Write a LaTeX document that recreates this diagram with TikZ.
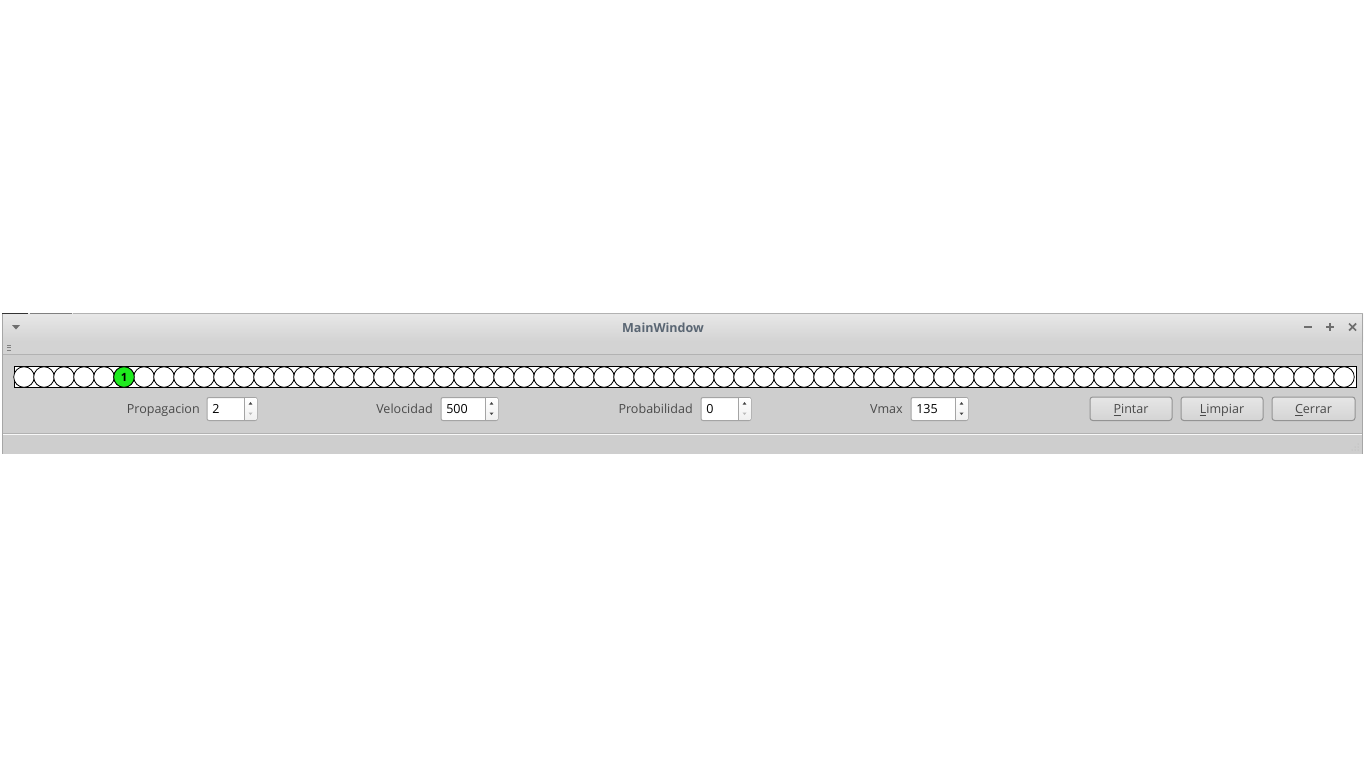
\documentclass[tikz,border=0pt]{standalone}
\usepackage{fontspec}
\setmainfont{Open Sans}
\definecolor{titTop}{HTML}{E8E8E8}
\definecolor{titBot}{HTML}{D3D3D3}
\definecolor{body}{HTML}{CECECE}
\definecolor{sepline}{HTML}{B2B2B2}
\definecolor{txt}{HTML}{4A4A4A}
\definecolor{titletxt}{HTML}{5A6673}
\definecolor{boxline}{HTML}{A4A4A4}
\definecolor{btnTop}{HTML}{E6E6E6}
\definecolor{btnBot}{HTML}{D4D4D4}
\definecolor{cellgreen}{HTML}{1EEB1E}
\definecolor{ctl}{HTML}{6E6E6E}
\begin{document}
\begin{tikzpicture}[x=0.75pt,y=-0.75pt,
  font=\fontsize{9.4}{11}\selectfont,
  cell/.style={circle,draw=black,line width=0.6pt,fill=white,minimum size=15.4pt,inner sep=0pt},
  lbl/.style={anchor=base east,inner sep=0pt,text=txt},
  val/.style={anchor=base west,inner sep=0pt,text=black},
  btntext/.style={anchor=base,inner sep=0pt,text=txt},
  sbline/.style={draw=boxline,line width=0.75pt},
]
\useasboundingbox[fill=white] (0,0) rectangle (1366,768);
% window body
\fill[body] (2,313) rectangle (1363,454);
\shade[top color=titTop,bottom color=titBot] (2,313) rectangle (1363,341);
\fill[titBot] (2,341) rectangle (1363,354);
\draw[sepline,line width=0.75pt] (2,354.5) -- (1363,354.5);
\draw[sepline,line width=0.75pt] (2,433.5) -- (1363,433.5);
\draw[white!85!body,line width=0.75pt] (2,434.5) -- (1363,434.5);
\draw[gray!70,line width=0.75pt] (2.5,313) -- (2.5,454);
\draw[gray!70,line width=0.75pt] (1362.5,313) -- (1362.5,454);
\draw[black!80,line width=1pt] (2,313.5) -- (28,313.5);
\draw[gray,line width=0.75pt] (30,313) -- (72,313);
\draw[gray!60,line width=0.75pt] (73,313.5) -- (1363,313.5);
% title bar
\node[anchor=base,inner sep=0pt,font=\fontsize{9.4}{11}\selectfont\bfseries,text=titletxt] (title) at (663,332.5) {MainWindow};
\fill[ctl] (12,325) -- (20,325) -- (16,329.5) -- cycle;
\foreach \yy in {345,347.5,350} \draw[gray,line width=0.6pt] (7,\yy) -- (11,\yy);
\draw[ctl,line width=1.3pt] (1304,327) -- (1312,327);
\draw[ctl,line width=1.3pt] (1326,327) -- (1334,327) (1330,323) -- (1330,331);
\draw[ctl,line width=1.3pt] (1349,323.5) -- (1356,330.5) (1349,330.5) -- (1356,323.5);
% cell strip
\draw[black,line width=0.75pt,fill=white] (14,366.5) rectangle (1356,387.5);
\foreach \k in {0,...,66} {
  \pgfmathsetmacro{\cx}{24+20*\k}
  \node[cell] (c\k) at (\cx,377) {};
}
\node[cell,fill=cellgreen,font=\fontsize{8.5}{9}\selectfont\bfseries] (c5) at (124,377) {1};
% spin boxes: label, box left, box right, value
\foreach \name/\lab/\lx/\bl/\br/\v/\dn in {sp1/Propagacion/200/207/257/2/gray!55,sp2/Velocidad/433/441/498/500/black!75,sp3/Probabilidad/693/701/751/0/gray!55,sp4/Vmax/903/911/968/135/black!75} {
  \node[lbl] (\name l) at (\lx,413.5) {\lab};
  \draw[sbline,fill=white,rounded corners=1.5pt] (\bl,397.5) rectangle (\br,420.5);
  \pgfmathsetmacro{\sx}{\br-13}
  \pgfmathsetmacro{\ax}{\br-6.5}
  \shade[top color=white,bottom color=gray!12] (\sx+0.5,398.2) rectangle (\br-0.7,419.8);
  \draw[boxline,line width=0.6pt] (\sx,397.5) -- (\sx,420.5);
  \fill[black!75] (\ax-1.8,404.5) -- (\ax+1.8,404.5) -- (\ax,402) -- cycle;
  \fill[\dn] (\ax-2,412.5) -- (\ax+2,412.5) -- (\ax,415) -- cycle;
  \node[val] (\name v) at (\bl+5,413.5) {\v};
}
% buttons
\foreach \name/\bl/\br/\first/\rest in {bp/1090/1172/P/intar,bl/1181/1263/L/impiar,bc/1272/1355/C/errar} {
  \draw[draw=gray!85,top color=btnTop,bottom color=btnBot,line width=0.75pt,rounded corners=2pt] (\bl,397) rectangle (\br,420.5);
  \node[btntext] (\name) at ({(\bl+\br)/2},413.5) {\underline{\first}\rest};
}
% size grip
\foreach \dx/\dy in {0/0,-3/0,0/-3,-6/0,-3/-3,0/-6} \fill[gray!60] (1358+\dx,450+\dy) circle (0.5);
\end{tikzpicture}
\end{document}
